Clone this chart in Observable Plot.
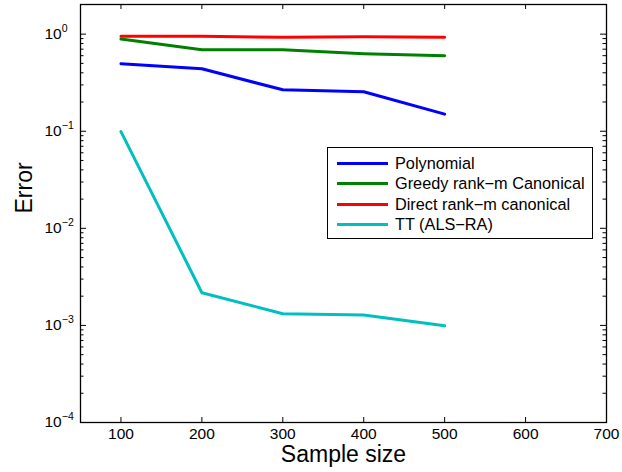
<!DOCTYPE html>
<html><head><meta charset="utf-8">
<script src="https://cdn.jsdelivr.net/npm/d3@7"></script>
<script src="https://cdn.jsdelivr.net/npm/@observablehq/plot@0.6"></script>
<style>
body{margin:0;background:#fff;font-family:"Liberation Sans",Arial,Helvetica,sans-serif}
#wrap{position:relative;width:622px;height:472px}
#legend{position:absolute;left:327px;top:147px;width:264px;height:80px;padding:5px 0;border:1px solid #000;background:#fff;font-size:16.3px;color:#000;box-sizing:content-box}
#legend .row{display:flex;align-items:center;height:20.5px}
#legend .sw{width:51px;height:3px;margin-left:9px;margin-right:7px;flex:none}
#legend span{white-space:nowrap}
</style>
</head><body>
<div id="wrap"><div id="legend"></div></div>
<script>
const sampleSizes = [100, 200, 300, 400, 500];
const polynomial = [0.495, 0.44, 0.267, 0.255, 0.15];
const greedy = [0.89, 0.69, 0.69, 0.63, 0.60];
const direct = [0.95, 0.95, 0.93, 0.94, 0.93];
const tt = [0.099, 0.00217, 0.00132, 0.00128, 0.00099];
const seriesNames = ["Polynomial", "Greedy rank\u2212m Canonical", "Direct rank\u2212m canonical", "TT (ALS\u2212RA)"];
const seriesColors = ["#0000ff", "#008000", "#ff0000", "#00bfbf"];
const xTicks = [100, 200, 300, 400, 500, 600, 700];
const yTicks = [1e-4, 1e-3, 1e-2, 1e-1, 1];

const seriesValues = [polynomial, greedy, direct, tt];
const rows = [];
seriesNames.forEach((name, i) => sampleSizes.forEach((x, j) => rows.push({series: name, x, y: seriesValues[i][j]})));
const minorTicks = [];
yTicks.slice(0, -1).forEach(d => { for (let k = 2; k <= 9; k++) minorTicks.push(k * d); });

const W = 622, H = 472, mL = 80, mR = 16, mT = 4, mB = 50;
const pw = W - mL - mR, ph = H - mT - mB;

const chart = Plot.plot({
  width: W, height: H,
  marginLeft: mL, marginRight: mR, marginTop: mT, marginBottom: mB,
  style: {fontFamily: '"Liberation Sans", Arial, sans-serif', fontSize: "15.5px", color: "#000", background: "#fff"},
  x: {domain: [50, 700]},
  y: {type: "log", domain: [1e-4, 2.02]},
  color: {domain: seriesNames, range: seriesColors},
  marks: [
    Plot.line(rows, {x: "x", y: "y", z: "series", stroke: "series", strokeWidth: 3}),
    Plot.frame({stroke: "#000", strokeWidth: 1.3}),
    Plot.tickX(xTicks, {x: d => d, insetTop: ph - 5, stroke: "#000"}),
    Plot.tickX(xTicks, {x: d => d, insetBottom: ph - 5, stroke: "#000"}),
    Plot.tickY(yTicks, {y: d => d, insetRight: pw - 6, stroke: "#000"}),
    Plot.tickY(yTicks, {y: d => d, insetLeft: pw - 6, stroke: "#000"}),
    Plot.tickY(minorTicks, {y: d => d, insetRight: pw - 3.5, stroke: "#000"}),
    Plot.tickY(minorTicks, {y: d => d, insetLeft: pw - 3.5, stroke: "#000"}),
    Plot.axisX({ticks: xTicks, tickSize: 0, tickPadding: 5.5, label: null, fontSize: 15.5}),
    Plot.axisY({ticks: yTicks, tickSize: 0, tickPadding: 36, textAnchor: "start", label: null, fontSize: 15.5,
      tickFormat: d => "10^" + Math.round(Math.log10(d))}),
    Plot.text(["Sample size"], {text: d => d, frameAnchor: "bottom", dy: 39.5, fontSize: 23}),
    Plot.text(["Error"], {text: d => d, frameAnchor: "left", dx: -56, rotate: -90, fontSize: 23})
  ]
});

d3.select(chart).selectAll('g[aria-label="y-axis tick label"] text').each(function() {
  const t = this.textContent;
  const exp = t.split("^")[1].replace("-", "\u2212");
  const sel = d3.select(this);
  sel.text("10");
  sel.append("tspan").attr("dy", "-7").attr("font-size", 10.5).text(exp);
});

document.getElementById("wrap").prepend(chart);
chart.style.position = "absolute"; chart.style.left = "0"; chart.style.top = "0";

const legend = d3.select("#legend");
seriesNames.forEach((name, i) => {
  const r = legend.append("div").attr("class", "row");
  r.append("div").attr("class", "sw").style("background", seriesColors[i]);
  r.append("span").text(name);
});
</script>
</body></html>
